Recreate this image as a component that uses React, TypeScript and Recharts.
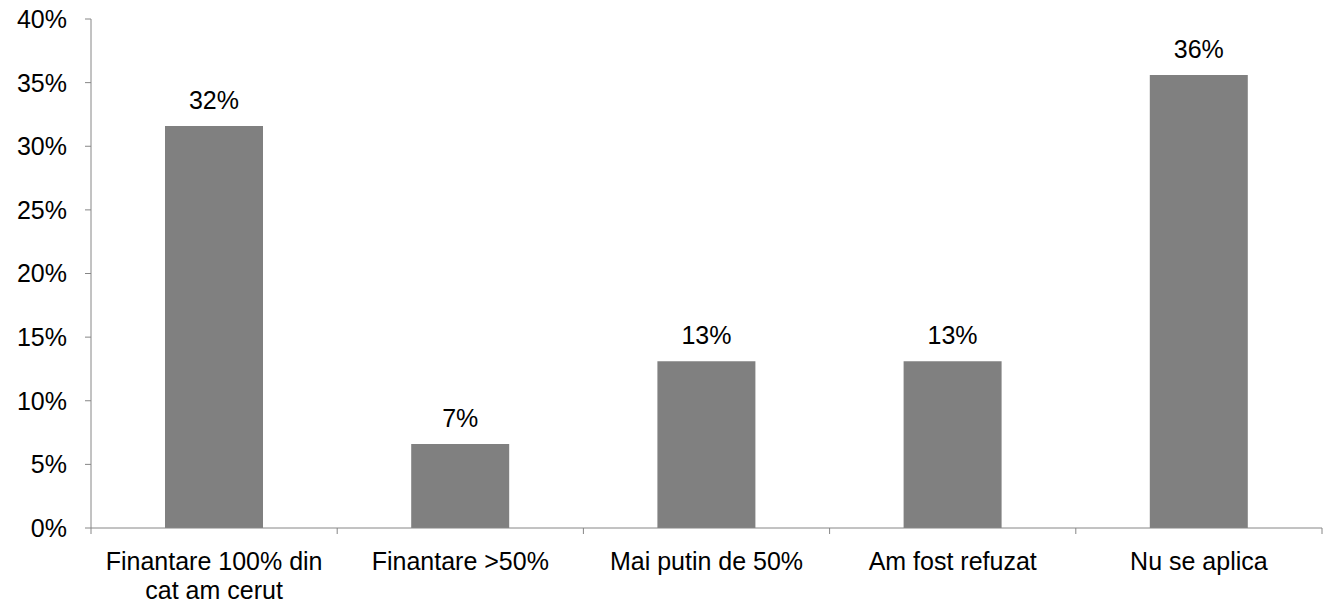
import React from 'react';
import { BarChart, Bar, XAxis, YAxis, LabelList } from 'recharts';

const categories = [
  'Finantare 100% din cat am cerut',
  'Finantare >50%',
  'Mai putin de 50%',
  'Am fost refuzat',
  'Nu se aplica',
];
const shares = [31.6, 6.6, 13.1, 13.1, 35.6];
const yTicks = [0, 5, 10, 15, 20, 25, 30, 35, 40];

const data = categories.map((name, i) => ({ name, share: shares[i] }));

const AXIS = '#868686';
const FONT = '"Liberation Sans", Arial, sans-serif';
const FONT_SIZE = 25;

let ctx: CanvasRenderingContext2D | null = null;
function measure(s: string) {
  if (!ctx) {
    ctx = document.createElement('canvas').getContext('2d');
    if (ctx) ctx.font = `${FONT_SIZE}px ${FONT}`;
  }
  return ctx ? ctx.measureText(s).width : s.length * FONT_SIZE * 0.5;
}

// greedy word wrap to a max pixel width
function wrap(label: string, maxWidth: number) {
  const lines: string[] = [];
  let cur = '';
  label.split(' ').forEach((w) => {
    const next = cur ? `${cur} ${w}` : w;
    if (cur && measure(next) > maxWidth) {
      lines.push(cur);
      cur = w;
    } else {
      cur = next;
    }
  });
  if (cur) lines.push(cur);
  return lines;
}

function CategoryTick(props: any) {
  const { x, y, payload, index, width, visibleTicksCount } = props;
  const band = width / (visibleTicksCount || categories.length);
  const axisY = y - 24;
  const lines = wrap(String(payload.value), 235);
  return (
    <g>
      <line x1={x - band / 2} x2={x - band / 2} y1={axisY} y2={axisY + 6} stroke={AXIS} />
      {index === categories.length - 1 && (
        <line x1={x + band / 2} x2={x + band / 2} y1={axisY} y2={axisY + 6} stroke={AXIS} />
      )}
      <text
        x={x}
        y={y}
        textAnchor="middle"
        fill="#000"
        style={{ fontFamily: FONT, fontSize: FONT_SIZE }}
      >
        {lines.map((l, i) => (
          <tspan key={i} x={x} dy={i === 0 ? '0.71em' : 29}>
            {l}
          </tspan>
        ))}
      </text>
    </g>
  );
}

export default function App() {
  return (
    <div style={{ position: 'absolute', left: 0, top: 0, background: '#fff' }}>
      <BarChart
        width={1329}
        height={606}
        data={data}
        margin={{ top: 19, right: 7, bottom: 0, left: 0 }}
        style={{ fontFamily: FONT }}
      >
        <XAxis
          dataKey="name"
          interval={0}
          height={78}
          stroke={AXIS}
          tickLine={false}
          tickSize={0}
          tickMargin={24}
          tick={<CategoryTick />}
        />
        <YAxis
          width={91}
          domain={[0, 40]}
          ticks={yTicks}
          interval={0}
          stroke={AXIS}
          tickSize={6}
          tickMargin={18}
          tickFormatter={(v: number) => `${v}%`}
          tick={{ fill: '#000', fontSize: FONT_SIZE, fontFamily: FONT }}
        />
        <Bar dataKey="share" fill="#808080" barSize={98} isAnimationActive={false}>
          <LabelList
            dataKey="share"
            position="top"
            offset={17}
            formatter={(v: any) => `${Math.round(Number(v))}%`}
            style={{ fill: '#000', fontSize: FONT_SIZE, fontFamily: FONT }}
          />
        </Bar>
      </BarChart>
    </div>
  );
}
